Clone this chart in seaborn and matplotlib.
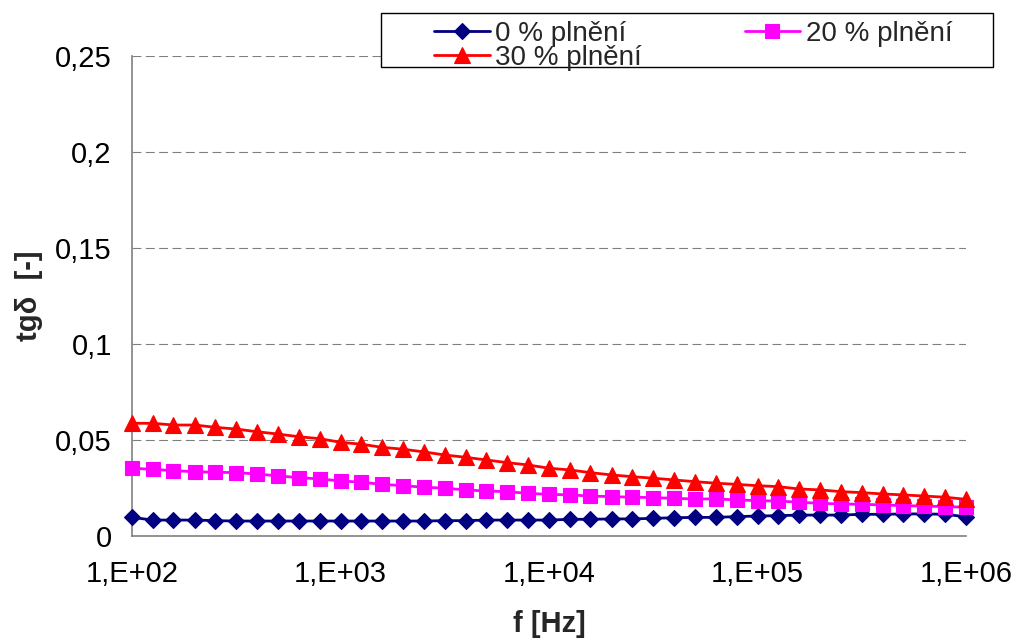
import matplotlib
matplotlib.use("Agg")
import matplotlib.pyplot as plt
import seaborn as sns
import numpy as np
import pandas as pd
from matplotlib.patches import Rectangle
from matplotlib.lines import Line2D

# ---- data ----
freq = [1.00e2, 1.26e2, 1.58e2, 2.00e2, 2.51e2, 3.16e2, 3.98e2, 5.01e2, 6.31e2, 7.94e2,
        1.00e3, 1.26e3, 1.58e3, 2.00e3, 2.51e3, 3.16e3, 3.98e3, 5.01e3, 6.31e3, 7.94e3,
        1.00e4, 1.26e4, 1.58e4, 2.00e4, 2.51e4, 3.16e4, 3.98e4, 5.01e4, 6.31e4, 7.94e4,
        1.00e5, 1.26e5, 1.58e5, 2.00e5, 2.51e5, 3.16e5, 3.98e5, 5.01e5, 6.31e5, 7.94e5,
        1.00e6]

tg_0 = [0.0097, 0.0083, 0.0083, 0.0083, 0.0080, 0.0078, 0.0078, 0.0078, 0.0078, 0.0078,
        0.0078, 0.0078, 0.0078, 0.0078, 0.0078, 0.0080, 0.0080, 0.0083, 0.0083, 0.0083,
        0.0083, 0.0087, 0.0087, 0.0089, 0.0089, 0.0092, 0.0095, 0.0097, 0.0097, 0.0101,
        0.0104, 0.0106, 0.0109, 0.0109, 0.0109, 0.0113, 0.0113, 0.0115, 0.0115, 0.0113,
        0.0100]

tg_20 = [0.0353, 0.0347, 0.0340, 0.0335, 0.0332, 0.0330, 0.0323, 0.0313, 0.0304, 0.0297,
         0.0287, 0.0280, 0.0269, 0.0262, 0.0254, 0.0249, 0.0240, 0.0234, 0.0231, 0.0222,
         0.0217, 0.0214, 0.0208, 0.0205, 0.0202, 0.0200, 0.0196, 0.0193, 0.0193, 0.0188,
         0.0184, 0.0182, 0.0176, 0.0170, 0.0167, 0.0165, 0.0162, 0.0158, 0.0156, 0.0153,
         0.0150]

tg_30 = [0.0587, 0.0587, 0.0578, 0.0578, 0.0566, 0.0557, 0.0543, 0.0531, 0.0517, 0.0507,
         0.0488, 0.0478, 0.0462, 0.0452, 0.0438, 0.0422, 0.0410, 0.0396, 0.0382, 0.0370,
         0.0353, 0.0344, 0.0330, 0.0318, 0.0309, 0.0301, 0.0292, 0.0283, 0.0275, 0.0269,
         0.0262, 0.0257, 0.0245, 0.0240, 0.0231, 0.0226, 0.0219, 0.0214, 0.0208, 0.0202,
         0.0191]

series_labels = ["0 % plnění", "20 % plnění", "30 % plnění"]
x_ticks = [1e2, 1e3, 1e4, 1e5, 1e6]
x_tick_labels = ["1,E+02", "1,E+03", "1,E+04", "1,E+05", "1,E+06"]
y_ticks = [0, 0.05, 0.1, 0.15, 0.2, 0.25]
y_tick_labels = ["0", "0,05", "0,1", "0,15", "0,2", "0,25"]

# ---- style ----
sns.set_style("white")
plt.rcParams["font.family"] = ["Liberation Sans", "DejaVu Sans"]
FS = 21
LFS = 20

fig = plt.figure(figsize=(10.16, 6.41), dpi=100)
ax = fig.add_axes([132/1016, 1-536/641, (966-132)/1016, (536-56)/641])

styles = [
    dict(color="#000080", marker="D", markersize=7.8),
    dict(color="#FF00FF", marker="s", markersize=9.8),
    dict(color="#FF0000", marker="^", markersize=12.0),
]
values = [tg_0, tg_20, tg_30]

handles = []
for lab, vals, st in zip(series_labels, values, styles):
    df = pd.DataFrame({"f": freq, "tg": vals})
    sns.lineplot(data=df, x="f", y="tg", ax=ax, color=st["color"], linewidth=2,
                 marker=st["marker"], markersize=st["markersize"],
                 markeredgecolor=st["color"], markerfacecolor=st["color"],
                 markeredgewidth=0.8, clip_on=False, zorder=3)
    handles.append(Line2D([], [], color=st["color"], linewidth=2, marker=st["marker"],
                          markersize=st["markersize"], markeredgecolor=st["color"],
                          markerfacecolor=st["color"], markeredgewidth=0.8, label=lab))

ax.set_xscale("log")
ax.set_xlim(1e2, 1e6)
ax.set_ylim(0, 0.25)
ax.set_xticks(x_ticks)
ax.set_xticklabels(x_tick_labels, fontsize=FS)
ax.xaxis.set_minor_locator(matplotlib.ticker.NullLocator())
ax.set_yticks(y_ticks)
ax.set_yticklabels(y_tick_labels, fontsize=FS)

ax.grid(False)
ax.yaxis.grid(True, color="#808080", linestyle=(0, (8, 4)), linewidth=0.8)
ax.set_axisbelow(True)

for s in ["top", "right"]:
    ax.spines[s].set_visible(False)
for s in ["left", "bottom"]:
    ax.spines[s].set_color("#808080")
    ax.spines[s].set_linewidth(1.2)

ax.tick_params(axis="both", which="major", direction="out", length=6.5, width=1,
               color="#606060", labelcolor="black")
ax.tick_params(axis="y", pad=8)
ax.tick_params(axis="x", pad=11)

ax.set_xlabel("f [Hz]", fontsize=FS, fontweight="bold")
ax.set_ylabel("tgδ  [-]", fontsize=FS, fontweight="bold")
ax.xaxis.set_label_coords((549-132)/(966-132), -(610-536)/480)
ax.yaxis.set_label_coords(-(132-43)/834, 0.5)

# legend box
rect = Rectangle((381/1016, 1-67/641), (993-381)/1016, (67-13)/641,
                 transform=fig.transFigure, facecolor="white", edgecolor="black",
                 linewidth=1.0, zorder=4)
fig.patches.append(rect)

order = [0, 2, 1]
leg = fig.legend([handles[i] for i in order], [series_labels[i] for i in order],
                 loc="upper left", bbox_to_anchor=(434/1016, 1-21/641),
                 ncol=2, frameon=False, fontsize=LFS, borderpad=0,
                 handlelength=2.0, handletextpad=0.2, columnspacing=3.7,
                 labelspacing=-0.08, borderaxespad=0)
leg.set_zorder(5)

fig.savefig("out.png", dpi=100)
